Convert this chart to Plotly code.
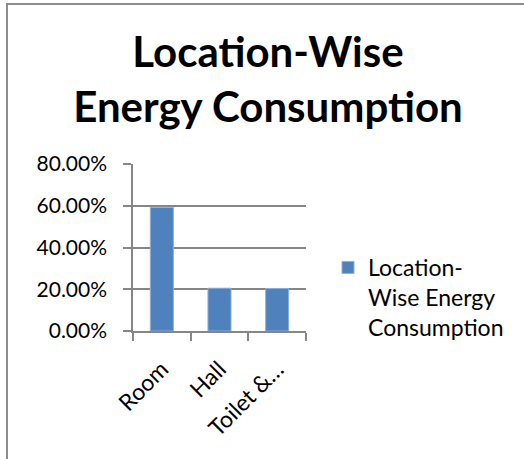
import plotly.graph_objects as go

categories = ["Room", "Hall", "Toilet &…"]
values = [0.592, 0.205, 0.203]
series_name = "Location-<br>Wise Energy<br>Consumption"
y_ticks = [0, 0.2, 0.4, 0.6, 0.8]
y_tick_labels = ["0.00%", "20.00%", "40.00%", "60.00%", "80.00%"]

W, H = 524, 459
ML, MR, MT, MB = 133, 218, 164, 128
PW, PH = W - ML - MR, H - MT - MB

def px_x(p):
    return (p - ML) / PW

def px_y(p):
    return (H - MB - p) / PH

fig = go.Figure()
fig.add_trace(go.Bar(
    x=categories, y=values, name=series_name,
    marker=dict(color="#4F81BD", line=dict(color="#8fb0da", width=1)),
    showlegend=True,
))

font_fam = "Lato, Liberation Sans, sans-serif"

fig.update_layout(
    width=W, height=H,
    margin=dict(l=ML, r=MR, t=MT, b=MB, pad=0),
    paper_bgcolor="white", plot_bgcolor="white",
    bargap=0.6,
    font=dict(family=font_fam, size=21, color="#000000"),
    title=dict(
        text="<b>Location-Wise<br>Energy Consumption</b>",
        x=268 / W, xanchor="center", xref="container",
        y=1 - 67 / H, yanchor="top", yref="container",
        font=dict(family=font_fam, size=42, color="#000000"),
    ),
    legend=dict(
        x=px_x(328), xanchor="left", y=px_y(246), yanchor="top",
        font=dict(family=font_fam, size=23, color="#000000"),
        bgcolor="rgba(0,0,0,0)", valign="top", tracegroupgap=0,
    ),
    showlegend=True,
)

fig.update_yaxes(
    range=[0, 0.8], tickvals=y_ticks, ticktext=y_tick_labels,
    showgrid=True, gridcolor="#868686", gridwidth=1.5,
    showline=True, linecolor="#868686", linewidth=1.5,
    ticks="outside", ticklen=8, tickcolor="#868686", tickwidth=1.5,
    ticklabelstandoff=12, zeroline=False,
    tickfont=dict(family=font_fam, size=21, color="#000000"),
)
fig.update_xaxes(
    showline=True, linecolor="#868686", linewidth=1.5,
    ticks="outside", ticklen=8, tickcolor="#868686", tickwidth=1.5,
    tickson="boundaries", tickangle=-45, showgrid=False,
    ticklabelstandoff=14,
    tickfont=dict(family=font_fam, size=23, color="#000000"),
)

# Chart-area border (left and top edges visible; rest is beyond the frame)
fig.add_shape(type="line", xref="paper", yref="paper",
              x0=px_x(7), x1=px_x(7), y0=px_y(4), y1=px_y(470),
              line=dict(color="#8c8c8c", width=2))
fig.add_shape(type="line", xref="paper", yref="paper",
              x0=px_x(6), x1=px_x(530), y0=px_y(4), y1=px_y(4),
              line=dict(color="#8c8c8c", width=2))

fig.write_html("out.html")
